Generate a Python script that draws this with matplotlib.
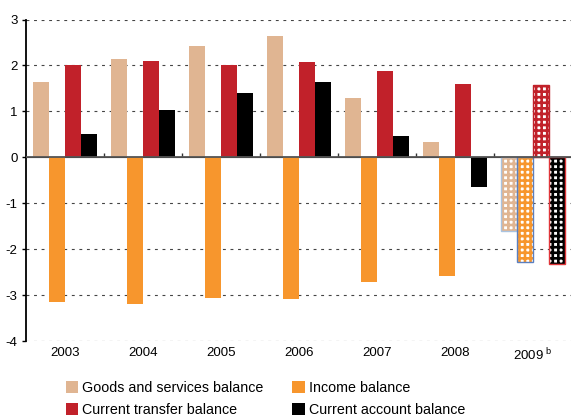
import numpy as np
import matplotlib.pyplot as plt
from matplotlib.patches import Patch

plt.rcParams['font.family'] = ['Liberation Sans', 'DejaVu Sans']
plt.rcParams['mathtext.fontset'] = 'custom'
plt.rcParams['mathtext.rm'] = 'Liberation Sans'
plt.rcParams['hatch.linewidth'] = 1.9

# Balances in percent of GDP, 2009 is a forecast
years = ['2003', '2004', '2005', '2006', '2007', '2008', '2009$^{\\ \\mathrm{b}}$']
goods = [1.65, 2.13, 2.43, 2.63, 1.30, 0.33, -1.61]
income = [-3.16, -3.20, -3.07, -3.09, -2.72, -2.59, -2.27]
transfer = [2.01, 2.09, 2.02, 2.07, 1.87, 1.59, 1.57]
current = [0.50, 1.02, 1.41, 1.63, 0.46, -0.65, -2.33]

names = ['Goods and services balance', 'Income balance',
         'Current transfer balance', 'Current account balance']
colors = ['#e0b592', '#f7962d', '#c1212a', '#000000']
outline_2009 = ['#a9c3e0', '#5b7fbf', '#c1212a', '#e0363a']

fig = plt.figure(figsize=(5.71, 4.18), dpi=100)
ax = fig.add_axes([26/571, 77/418, 545/571, 321.5/418])

x = np.arange(len(years))
w = 0.205
offsets = [-1.5*w, -0.5*w, 0.5*w, 1.5*w]
series = [goods, income, transfer, current]

for vals, off, col, oc in zip(series, offsets, colors, outline_2009):
    # actual years as solid bars
    ax.bar(x[:-1] + off, vals[:-1], w, color=col, linewidth=0, zorder=2)
    # forecast year: white grid hatched in the series colour
    ax.bar(x[-1] + off, vals[-1], w, facecolor='white', edgecolor=col,
           hatch='+++', linewidth=0, zorder=2)
    ax.bar(x[-1] + off, vals[-1], w, facecolor='none', edgecolor=oc,
           linewidth=1.0, zorder=3)

ax.set_xlim(-0.5, 6.487)
ax.set_ylim(-4, 3)
ax.set_yticks(np.arange(-4, 4))
ax.set_yticklabels([str(v) for v in range(-4, 4)])
ax.set_xticks(x)
ax.set_xticklabels(years)
ax.tick_params(axis='x', length=0, pad=4, labelsize=9.5)
ax.tick_params(axis='y', length=3, width=1, direction='out', pad=3, labelsize=9.5)

for s in ['top', 'right', 'bottom']:
    ax.spines[s].set_visible(False)
ax.spines['left'].set_linewidth(1.3)

ax.set_axisbelow(True)
ax.yaxis.grid(True, color='#444444', linewidth=0.8, linestyle=(0, (2.6, 4.2)))
ax.get_ygridlines()[4].set_visible(False)
ax.axhline(0, color='#555555', linewidth=1.3, zorder=4)

# small tick marks between the year groups on the zero line
zero_axis = ax.secondary_xaxis(4/7)
zero_axis.set_xticks(np.arange(0.5, 6.5, 1))
zero_axis.set_xticklabels([])
zero_axis.tick_params(length=3, width=1, direction='out', color='#333333')
zero_axis.spines['bottom'].set_visible(False)

handles = [Patch(facecolor=c, edgecolor='none') for c in colors]
order = [0, 2, 1, 3]
fig.legend([handles[i] for i in order], [names[i] for i in order],
           loc='upper left', bbox_to_anchor=(66/571, 37/418), ncol=2,
           frameon=False, fontsize=10.3, handlelength=0.85, handleheight=0.85,
           handletextpad=0.3, columnspacing=2.0, labelspacing=0.55,
           borderpad=0, borderaxespad=0)

fig.savefig('out.png', dpi=100)
